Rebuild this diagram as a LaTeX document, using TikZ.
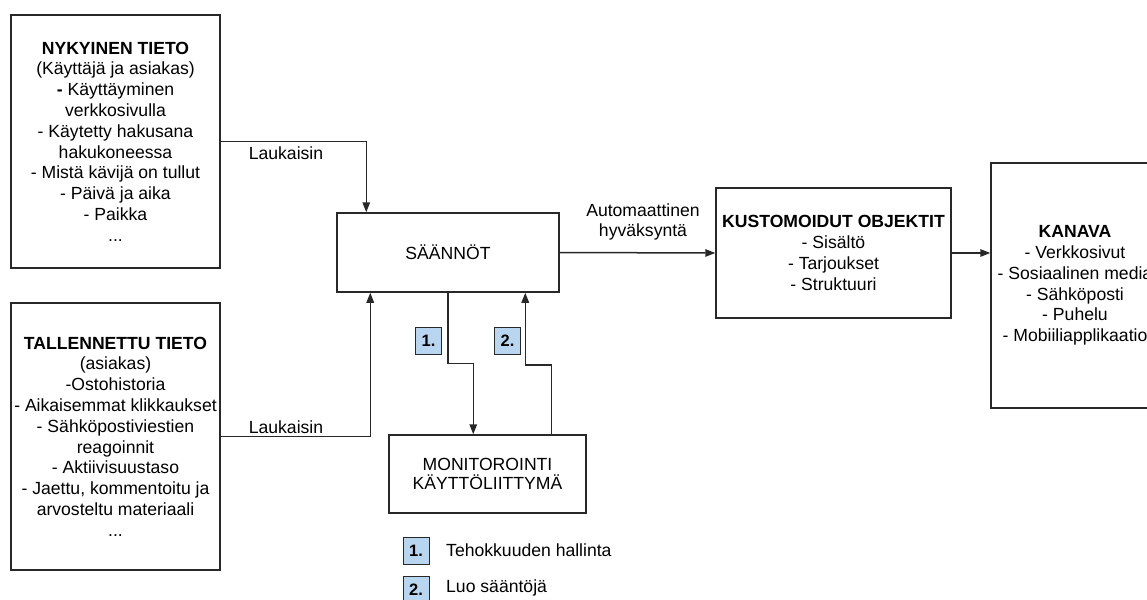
\documentclass[tikz,border=0pt]{standalone}
\usepackage{fontspec}
\setmainfont{Liberation Sans}
\usetikzlibrary{arrows.meta,calc}
\definecolor{linegray}{RGB}{40,40,40}
\definecolor{badgeblue}{RGB}{184,214,240}
\begin{document}
\begin{tikzpicture}[x=1pt,y=-1pt,
  every node/.style={font=\fontsize{17.6}{20.8}\selectfont, text=black},
  box/.style={draw=linegray, line width=1.5pt, fill=white, inner sep=0pt, align=center},
  conn/.style={draw=linegray, line width=1.5pt},
  arr/.style={conn, -{Triangle[length=10pt,width=7.5pt]}},
  badge/.style={draw=linegray, line width=1pt, fill=badgeblue, inner sep=0pt,
    minimum width=26pt, minimum height=27pt, font=\fontsize{16.5}{18}\selectfont\bfseries},
  lbl/.style={align=center, inner sep=0pt}]
\useasboundingbox (0,0) rectangle (1147,599);
\clip (0,0) rectangle (1147,599);
\fill[white] (0,0) rectangle (1147,599);

% input data boxes
\node[box, minimum width=209pt, minimum height=253pt] (nyk) at (115.5,141.5)
  {\textbf{NYKYINEN TIETO}\\(Käyttäjä ja asiakas)\\\textbf{-} Käyttäyminen\\verkkosivulla\\- Käytetty hakusana\\hakukoneessa\\- Mistä kävijä on tullut\\- Päivä ja aika\\- Paikka\\...};
\node[box, minimum width=209pt, minimum height=267pt] (tal) at (115.5,436.5)
  {\textbf{TALLENNETTU TIETO}\\(asiakas)\\-Ostohistoria\\- Aikaisemmat klikkaukset\\- Sähköpostiviestien\\reagoinnit\\- Aktiivisuustaso\\- Jaettu, kommentoitu ja\\arvosteltu materiaali\\...};

% rules and monitoring
\node[box, minimum width=222pt, minimum height=79pt] (saa) at (448,252.5) {SÄÄNNÖT};
\node[box, minimum width=197pt, minimum height=78pt] (mon) at (487.5,474) {MONITOROINTI\\[-2pt]KÄYTTÖLIITTYMÄ};

% outputs
\node[box, minimum width=235pt, minimum height=130pt] (kus) at (833.5,253)
  {\textbf{KUSTOMOIDUT OBJEKTIT}\\- Sisältö\\- Tarjoukset\\- Struktuuri};
\node[box, minimum width=168pt, minimum height=245pt] (kan) at (1075,285.5)
  {\textbf{KANAVA}\\- Verkkosivut\\- Sosiaalinen media\\- Sähköposti\\- Puhelu\\- Mobiiliapplikaatio};

% triggers
\draw[arr] (nyk.east) -| ($(saa.north west)+(30,0)$);
\draw[arr] (tal.east) -| ($(saa.south west)+(34,0)$);
\node[lbl] (l1) at (286,153) {Laukaisin};
\node[lbl] (l2) at (286,427) {Laukaisin};

% rules <-> monitoring
\draw[arr] (saa.south) |- ($(mon.north west)+(85,-71)$) -- ($(mon.north west)+(85,0)$);
\draw[arr] ($(mon.north west)+(163,0)$) |- ($(saa.south west)+(189,72)$) -- ($(saa.south west)+(189,0)$);
\node[badge] (b1) at (428.5,340.5) {1.};
\node[badge] (b2) at (507.5,340.5) {2.};

% approval and delivery
\draw[arr] (saa.east) -- (kus.west);
\node[lbl] (auto) at (643,222) {Automaattinen\\hyväksyntä};
\draw[arr] (kus.east) -- (kus.east -| kan.west);

% legend
\node[badge] (lg1) at (416,551) {1.};
\node[badge] (lg2) at (416,590) {2.};
\node[lbl, anchor=west] (lt1) at (446,550) {Tehokkuuden hallinta};
\node[lbl, anchor=west] (lt2) at (446,588) {Luo sääntöjä};
\end{tikzpicture}
\end{document}
